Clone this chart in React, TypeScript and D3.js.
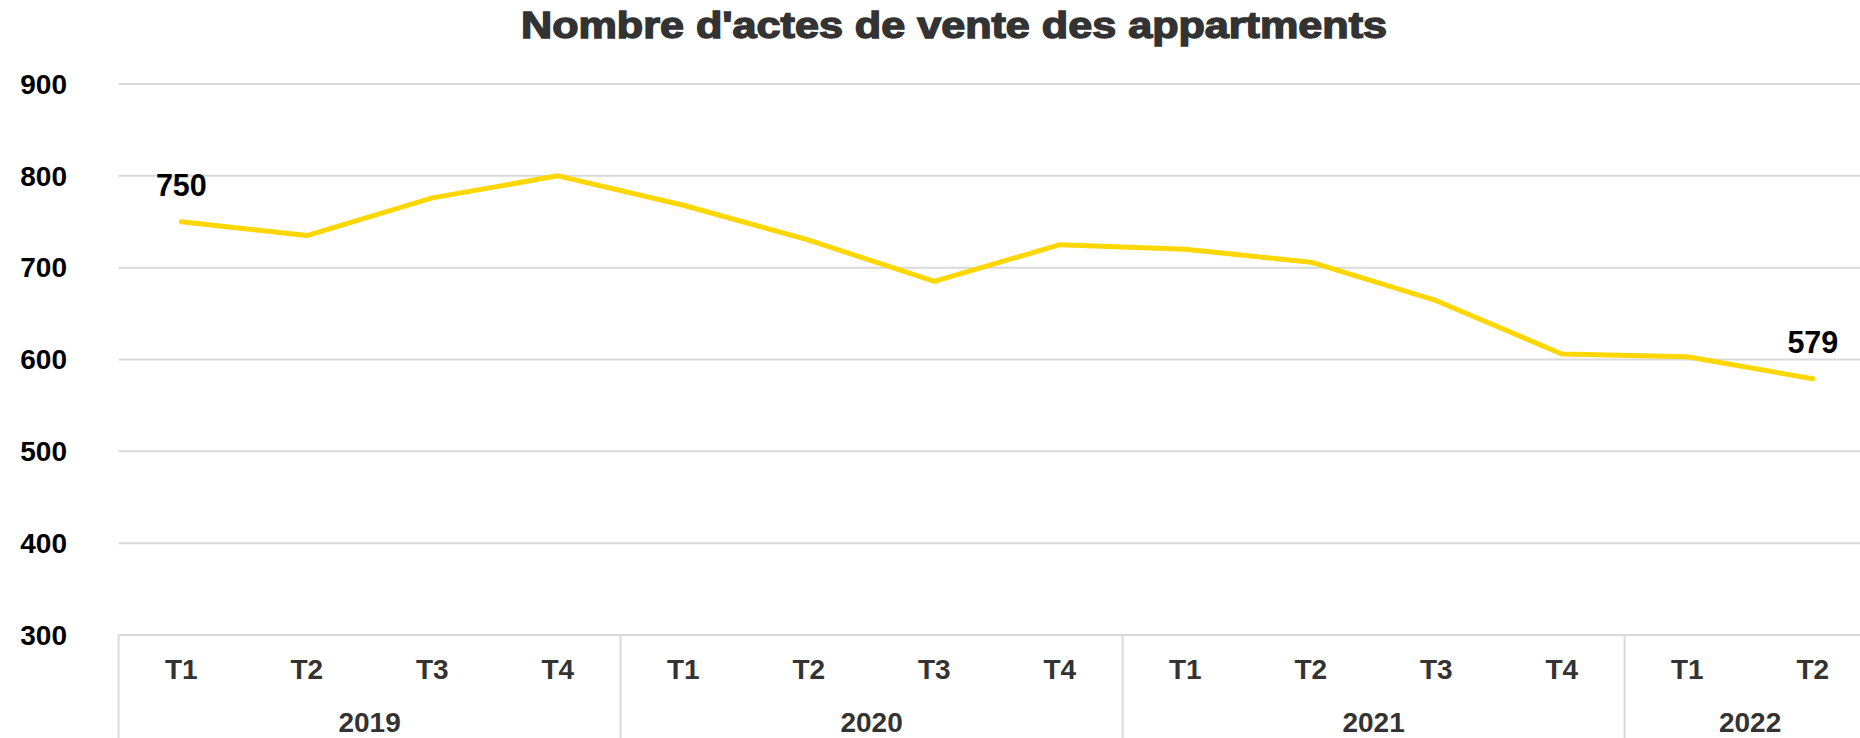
import React from "react";
import * as d3 from "d3";

const title = "Nombre d'actes de vente des appartments";
const quarters = ["T1", "T2", "T3", "T4", "T1", "T2", "T3", "T4", "T1", "T2", "T3", "T4", "T1", "T2"];
const years = ["2019", "2020", "2021", "2022"];
const quartersPerYear = [4, 4, 4, 2];
const values = [750, 735, 776, 800, 768, 730, 685, 725, 720, 706, 664, 606, 603, 579];
const yTicks = [300, 400, 500, 600, 700, 800, 900];
const labelledIdx = [0, 13];

const W = 1860;
const H = 738;
const left = 118.6;
const right = 1875.6;
const top = 84;
const bottom = 635;

export default function App() {
  const idx = values.map((_, i) => i);
  const x = d3.scaleBand<number>().domain(idx).range([left, right]).padding(0);
  const cx = (i: number) => (x(i) as number) + x.bandwidth() / 2;
  const y = d3.scaleLinear().domain([300, 900]).range([bottom, top]);
  const line = d3
    .line<number>()
    .x((_, i) => cx(i))
    .y((d) => y(d));

  // year boundaries
  const yearStarts: number[] = [];
  let acc = 0;
  quartersPerYear.forEach((n) => {
    yearStarts.push(acc);
    acc += n;
  });

  const labelFont = "'Liberation Sans', Arial, sans-serif";

  return (
    <svg
      width={W}
      height={H}
      style={{ position: "absolute", left: 0, top: 0, background: "#fff" }}
      fontFamily={labelFont}
    >
      <text
        x={954}
        y={37.7}
        textAnchor="middle"
        fontSize={36}
        fontWeight="bold"
        fill="#333"
        stroke="#333"
        strokeWidth={1.4}
        textLength={866}
        lengthAdjust="spacingAndGlyphs"
      >
        {title}
      </text>

      {yTicks.map((t) => (
        <g key={t}>
          <line x1={left} x2={W} y1={y(t)} y2={y(t)} stroke="#d9d9d9" strokeWidth={2} />
          <text
            x={67}
            y={y(t)}
            dy="0.35em"
            textAnchor="end"
            fontSize={28}
            fontWeight="bold"
            fill="#000"
          >
            {t}
          </text>
        </g>
      ))}

      {/* category axis box */}
      {yearStarts.map((s, k) => (
        <line
          key={"v" + k}
          x1={x(s) as number}
          x2={x(s) as number}
          y1={bottom}
          y2={H}
          stroke="#d9d9d9"
          strokeWidth={2}
        />
      ))}
      {quarters.map((q, i) => (
        <text
          key={"q" + i}
          x={cx(i)}
          y={679}
          textAnchor="middle"
          fontSize={28}
          fontWeight="bold"
          fill="#333"
        >
          {q}
        </text>
      ))}
      {years.map((yr, k) => {
        const s = yearStarts[k];
        const e = s + quartersPerYear[k] - 1;
        const mid = ((x(s) as number) + (x(e) as number) + x.bandwidth()) / 2;
        return (
          <text
            key={"y" + k}
            x={mid}
            y={731.7}
            textAnchor="middle"
            fontSize={28}
            fontWeight="bold"
            fill="#333"
          >
            {yr}
          </text>
        );
      })}

      <path
        d={line(values) || ""}
        fill="none"
        stroke="#FFD700"
        strokeWidth={5}
        strokeLinejoin="round"
        strokeLinecap="round"
      />

      {labelledIdx.map((i) => (
        <text
          key={"l" + i}
          x={cx(i)}
          y={y(values[i]) - 25.5}
          textAnchor="middle"
          fontSize={30.5}
          fontWeight="bold"
          fill="#000"
        >
          {values[i]}
        </text>
      ))}
    </svg>
  );
}
